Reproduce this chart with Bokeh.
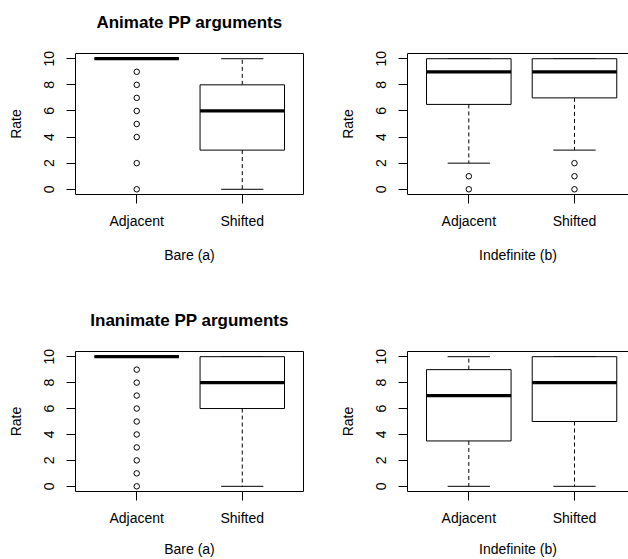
from bokeh.plotting import figure
from bokeh.layouts import gridplot
from bokeh.models import FixedTicker, LinearAxis, Range1d
from bokeh.embed import file_html
from bokeh.resources import INLINE

# ---- data ----
categories = ["Adjacent", "Shifted"]
positions = [1, 2]
y_ticks = [0, 2, 4, 6, 8, 10]

titles = ["Animate PP arguments", "", "Inanimate PP arguments", ""]
xlabels = ["Bare (a)", "Indefinite (b)", "Bare (a)", "Indefinite (b)"]

# Animate, Bare
anim_bare_low = [10, 0]
anim_bare_q1 = [10, 3]
anim_bare_med = [10, 6]
anim_bare_q3 = [10, 8]
anim_bare_high = [10, 10]
anim_bare_out = [[9, 8, 7, 6, 5, 4, 2, 0], []]

# Animate, Indefinite
anim_indef_low = [2, 3]
anim_indef_q1 = [6.5, 7]
anim_indef_med = [9, 9]
anim_indef_q3 = [10, 10]
anim_indef_high = [10, 10]
anim_indef_out = [[1, 0], [2, 1, 0]]

# Inanimate, Bare
inan_bare_low = [10, 0]
inan_bare_q1 = [10, 6]
inan_bare_med = [10, 8]
inan_bare_q3 = [10, 10]
inan_bare_high = [10, 10]
inan_bare_out = [[9, 8, 7, 6, 5, 4, 3, 2, 1, 0], []]

# Inanimate, Indefinite
inan_indef_low = [0, 0]
inan_indef_q1 = [3.5, 5]
inan_indef_med = [7, 8]
inan_indef_q3 = [9, 10]
inan_indef_high = [10, 10]
inan_indef_out = [[], []]

panels = [
    (anim_bare_low, anim_bare_q1, anim_bare_med, anim_bare_q3, anim_bare_high, anim_bare_out),
    (anim_indef_low, anim_indef_q1, anim_indef_med, anim_indef_q3, anim_indef_high, anim_indef_out),
    (inan_bare_low, inan_bare_q1, inan_bare_med, inan_bare_q3, inan_bare_high, inan_bare_out),
    (inan_indef_low, inan_indef_q1, inan_indef_med, inan_indef_q3, inan_indef_high, inan_indef_out),
]

FONT = "Liberation Sans"
LBL = "14px"
BOXW = 0.4
CAPW = 0.2


def make_panel(i):
    low, q1, med, q3, high, outs = panels[i]
    is_right = i % 2 == 1
    is_top = i < 2
    W = 314
    H = 297 if is_top else 262
    xr = Range1d(0.42, 2.511) if is_right else Range1d(0.42, 2.58)
    p = figure(width=W, height=H, x_range=xr, y_range=Range1d(-0.4, 10.4),
               output_backend="svg", toolbar_location=None)
    p.min_border_left = 93 if is_right else 75
    p.min_border_right = 0 if is_right else 11
    p.min_border_top = 53 if is_top else 54
    p.min_border_bottom = 103 if is_top else 68
    p.background_fill_color = "white"
    p.border_fill_color = "white"
    p.xgrid.visible = False
    p.ygrid.visible = False

    # top axis: carries the panel title (left) or the box's top line (right)
    top = LinearAxis(ticker=FixedTicker(ticks=[]),
                     major_tick_line_color=None, minor_tick_line_color=None,
                     major_tick_out=0, major_tick_in=0,
                     major_label_text_font_size="0px", major_label_standoff=0)
    if titles[i]:
        top.axis_label = titles[i]
        top.axis_label_text_font = FONT
        top.axis_label_text_font_size = "17px"
        top.axis_label_text_font_style = "bold"
        top.axis_label_text_color = "black"
        top.axis_label_standoff = 22
    top.axis_line_color = "black" if is_right else None
    p.add_layout(top, "above")

    # whiskers (dashed)
    lo_x = [x for x, a, b in zip(positions, low, q1) if a < b]
    lo_y0 = [b for a, b in zip(low, q1) if a < b]
    lo_y1 = [a for a, b in zip(low, q1) if a < b]
    hi_x = [x for x, a, b in zip(positions, q3, high) if a < b]
    hi_y0 = [a for a, b in zip(q3, high) if a < b]
    hi_y1 = [b for a, b in zip(q3, high) if a < b]
    p.segment(x0=lo_x, x1=lo_x, y0=lo_y0, y1=lo_y1, line_color="black",
              line_width=1, line_dash="4 3")
    p.segment(x0=hi_x, x1=hi_x, y0=hi_y0, y1=hi_y1, line_color="black",
              line_width=1, line_dash="4 3")
    # caps
    p.segment(x0=[x - CAPW for x in positions], x1=[x + CAPW for x in positions],
              y0=low, y1=low, line_color="black", line_width=1)
    p.segment(x0=[x - CAPW for x in positions], x1=[x + CAPW for x in positions],
              y0=high, y1=high, line_color="black", line_width=1)
    # boxes
    p.quad(left=[x - BOXW for x in positions], right=[x + BOXW for x in positions],
           bottom=q1, top=q3, fill_color="white", line_color="black", line_width=1)
    # medians
    p.segment(x0=[x - BOXW for x in positions], x1=[x + BOXW for x in positions],
              y0=med, y1=med, line_color="black", line_width=3.2)
    # outliers
    ox, oy = [], []
    for x, vals in zip(positions, outs):
        for v in vals:
            ox.append(x)
            oy.append(v)
    if ox:
        p.scatter(ox, oy, marker="circle", size=5.5, fill_color=None,
                  line_color="black", line_width=1)

    # axes
    xa = p.xaxis[-1] if False else p.below[0]
    xa.ticker = FixedTicker(ticks=positions)
    xa.major_label_overrides = {1: categories[0], 2: categories[1]}
    xa.axis_label = xlabels[i]
    ya = p.left[0]
    ya.ticker = FixedTicker(ticks=y_ticks)
    ya.axis_label = "Rate"
    ya.major_label_orientation = "vertical"
    for ax in (xa, ya):
        ax.minor_tick_line_color = None
        ax.major_tick_out = 9
        ax.major_tick_in = 0
        ax.major_tick_line_color = "black"
        ax.major_label_text_font = FONT
        ax.major_label_text_font_size = LBL
        ax.major_label_text_color = "black"
        ax.axis_label_text_font = FONT
        ax.axis_label_text_font_size = LBL
        ax.axis_label_text_font_style = "normal"
        ax.axis_label_text_color = "black"
    xa.major_label_standoff = 9
    xa.axis_label_standoff = 15 if is_top else 12
    ya.major_label_standoff = 12
    ya.axis_label_standoff = 18

    if is_right:
        p.outline_line_color = None
        xa.axis_line_color = "black"
        ya.axis_line_color = "black"
    else:
        p.outline_line_color = "black"
        p.outline_line_width = 1
        xa.axis_line_color = None
        ya.axis_line_color = None
    return p


figs = [make_panel(i) for i in range(4)]
grid = gridplot([[figs[0], figs[1]], [figs[2], figs[3]]], toolbar_location=None)

open("out.html", "w").write(file_html(grid, INLINE))
